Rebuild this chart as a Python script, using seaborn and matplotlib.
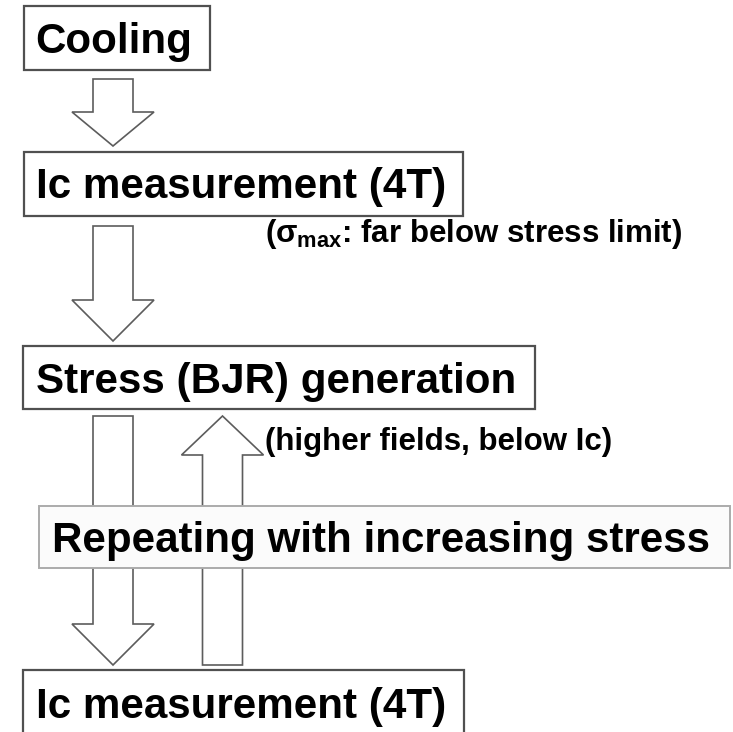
import matplotlib
matplotlib.use("Agg")
import matplotlib.pyplot as plt
import seaborn as sns
from matplotlib.patches import Rectangle, Polygon

# ---- content ----
step_labels = ["Cooling", "Ic measurement (4T)", "Stress (BJR) generation", "Ic measurement (4T)"]
loop_label = "Repeating with increasing stress"
note_labels = [r"($\sigma_{\mathrm{max}}$: far below stress limit)", "(higher fields, below Ic)"]

# ---- style ----
sns.set_theme(style="white")
plt.rcParams["font.family"] = ["Liberation Sans", "DejaVu Sans"]
plt.rcParams["font.weight"] = "bold"
plt.rcParams["mathtext.fontset"] = "custom"
plt.rcParams["mathtext.rm"] = "Liberation Sans:bold"
plt.rcParams["mathtext.it"] = "Liberation Sans:bold"
plt.rcParams["mathtext.bf"] = "Liberation Sans:bold"
plt.rcParams["mathtext.sf"] = "Liberation Sans:bold"

fig = plt.figure(figsize=(7.33, 7.32), dpi=100)
ax = fig.add_axes([0, 0, 1, 1])
ax.set_xlim(0, 733)
ax.set_ylim(732, 0)
ax.axis("off")

# ---- layout (pixel coordinates) ----
box_geom = [(24, 6, 210, 70), (24, 152, 463, 216), (23, 346, 535, 409), (23, 670, 464, 760)]
text_base = [53, 198, 393, 718]
main_fs = 30.3
note_fs = 22.5
box_col = "#505050"
arrow_col = "#5c5c5c"

for (x0, y0, x1, y1), lab, yb in zip(box_geom, step_labels, text_base):
    ax.add_patch(Rectangle((x0, y0), x1 - x0, y1 - y0, facecolor="white",
                           edgecolor=box_col, lw=1.6, zorder=2))
    ax.text(35.5, yb, lab, fontsize=main_fs, fontweight="bold", color="black",
            ha="left", va="baseline", zorder=5)


def block_arrow(cx, y_tail, y_hb, y_tip, sw=40, hw=82):
    pts = [(cx - sw / 2, y_tail), (cx + sw / 2, y_tail), (cx + sw / 2, y_hb),
           (cx + hw / 2, y_hb), (cx, y_tip), (cx - hw / 2, y_hb), (cx - sw / 2, y_hb)]
    ax.add_patch(Polygon(pts, closed=True, facecolor="white", edgecolor=arrow_col,
                         lw=1.2, joinstyle="miter", zorder=2))


block_arrow(113, 79, 112, 146)
block_arrow(113, 226, 300, 341)
block_arrow(113, 416, 624, 665)
block_arrow(222.5, 665, 455, 416)

# loop box over the arrows
ax.add_patch(Rectangle((39, 506), 691, 62, facecolor="#fbfbfb", edgecolor="#ababab",
                       lw=1.4, zorder=3))
ax.text(52, 552, loop_label, fontsize=main_fs, fontweight="bold", color="black",
        ha="left", va="baseline", zorder=5)

ax.text(265, 242, note_labels[0], fontsize=note_fs, fontweight="bold", color="black",
        ha="left", va="baseline", zorder=5)
ax.text(265, 450, note_labels[1], fontsize=note_fs, fontweight="bold", color="black",
        ha="left", va="baseline", zorder=5)

fig.savefig("out.png", dpi=100, facecolor="white")
